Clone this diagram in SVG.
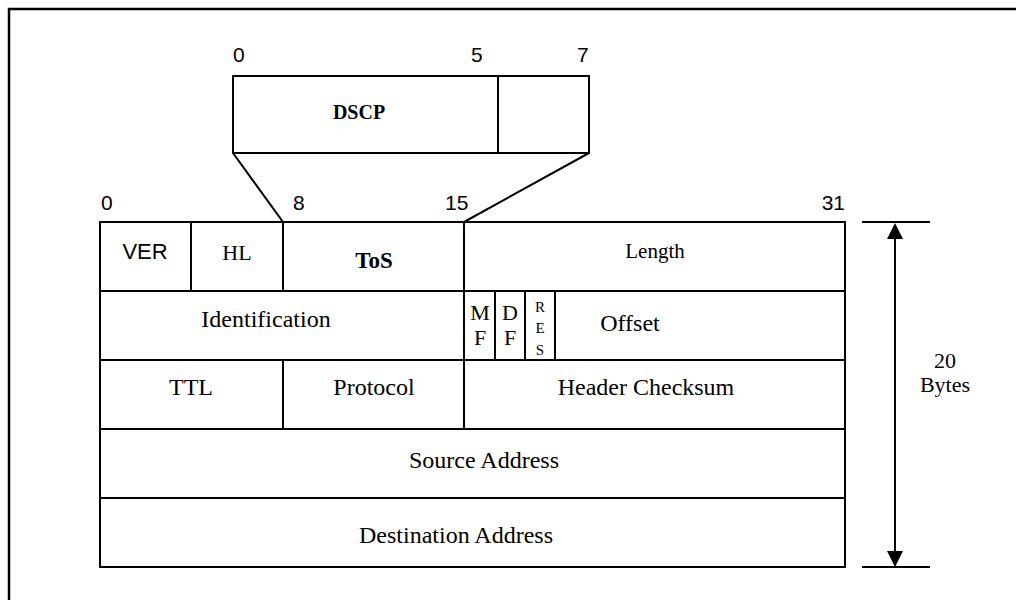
<svg xmlns="http://www.w3.org/2000/svg" width="1016" height="600" viewBox="0 0 1016 600">
<style>
.ln{stroke:#000;stroke-width:2;fill:none}
.box{stroke:#000;stroke-width:2;fill:#fff}
.a{font-family:"Liberation Sans",Arial,sans-serif;font-size:21px;fill:#000}
.t{font-family:"Liberation Serif","Times New Roman",serif;font-size:24px;fill:#000}
.b{font-weight:bold}
.m{font-size:22px}
.s{font-size:15px}
</style>
<defs>
<marker id="ah" viewBox="0 0 16 16" refX="16" refY="8" markerWidth="16" markerHeight="16" markerUnits="userSpaceOnUse" orient="auto">
<path d="M0,0 L16,8 L0,16 Z" fill="#000"/>
</marker>
</defs>
<rect x="9" y="9" width="1020" height="600" fill="#fff" stroke="#000" stroke-width="2.5"/>

<g id="dscp">
<rect class="box" x="233" y="76" width="356" height="77"/>
<line class="ln" x1="498" y1="76" x2="498" y2="153"/>
<text class="t b" x="359" y="119" text-anchor="middle" style="font-size:20px">DSCP</text>
<text class="a" x="233" y="62">0</text>
<text class="a" x="471" y="62">5</text>
<text class="a" x="577" y="62">7</text>
</g>

<g id="connectors">
<line class="ln" x1="233" y1="153" x2="283" y2="222"/>
<line class="ln" x1="589" y1="153" x2="464" y2="222"/>
<line class="ln" x1="862" y1="222" x2="930" y2="222"/>
<line class="ln" x1="862" y1="567" x2="930" y2="567"/>
<line class="ln" x1="895" y1="238" x2="895" y2="551"/>
<line x1="895" y1="300" x2="895" y2="223" stroke="none" marker-end="url(#ah)"/>
<line x1="895" y1="500" x2="895" y2="567" stroke="none" marker-end="url(#ah)"/>
</g>

<g id="bitlabels">
<text class="a" x="101" y="210">0</text>
<text class="a" x="293" y="210">8</text>
<text class="a" x="445" y="210">15</text>
<text class="a" x="845" y="210" text-anchor="end">31</text>
</g>

<g id="header">
<rect class="box" x="100" y="222" width="745" height="345"/>
<line class="ln" x1="100" y1="291" x2="845" y2="291"/>
<line class="ln" x1="100" y1="360" x2="845" y2="360"/>
<line class="ln" x1="100" y1="429" x2="845" y2="429"/>
<line class="ln" x1="100" y1="498" x2="845" y2="498"/>
<line class="ln" x1="191" y1="222" x2="191" y2="291"/>
<line class="ln" x1="283" y1="222" x2="283" y2="291"/>
<line class="ln" x1="464" y1="222" x2="464" y2="429"/>
<line class="ln" x1="495" y1="291" x2="495" y2="360"/>
<line class="ln" x1="525" y1="291" x2="525" y2="360"/>
<line class="ln" x1="555" y1="291" x2="555" y2="360"/>
<line class="ln" x1="283" y1="360" x2="283" y2="429"/>
</g>

<g id="ver"><text class="a" x="145" y="259" text-anchor="middle" style="font-size:22px">VER</text></g>
<g id="hl"><text class="t m" x="237" y="260" text-anchor="middle">HL</text></g>
<g id="tos"><text class="t b" x="374" y="268" text-anchor="middle" style="font-size:23px">ToS</text></g>
<g id="length"><text class="t" x="655" y="258" text-anchor="middle" style="font-size:21px">Length</text></g>
<g id="identification"><text class="t" x="266" y="327" text-anchor="middle">Identification</text></g>
<g id="mf"><text class="t m" x="480" y="320" text-anchor="middle">M</text><text class="t m" x="480" y="345" text-anchor="middle">F</text></g>
<g id="df"><text class="t m" x="510" y="320" text-anchor="middle">D</text><text class="t m" x="510" y="345" text-anchor="middle">F</text></g>
<g id="res"><text class="t s" x="540" y="312" text-anchor="middle">R</text><text class="t s" x="540" y="333" text-anchor="middle">E</text><text class="t s" x="540" y="355" text-anchor="middle">S</text></g>
<g id="offset"><text class="t" x="630" y="331" text-anchor="middle">Offset</text></g>
<g id="ttl"><text class="t" x="191" y="395" text-anchor="middle">TTL</text></g>
<g id="protocol"><text class="t" x="374" y="395" text-anchor="middle">Protocol</text></g>
<g id="checksum"><text class="t" x="646" y="395" text-anchor="middle">Header Checksum</text></g>
<g id="source"><text class="t" x="484" y="468" text-anchor="middle">Source Address</text></g>
<g id="destination"><text class="t" x="456" y="543" text-anchor="middle">Destination Address</text></g>
<g id="size"><text class="t m" x="945" y="368" text-anchor="middle">20</text><text class="t m" x="945" y="392" text-anchor="middle">Bytes</text></g>
</svg>
